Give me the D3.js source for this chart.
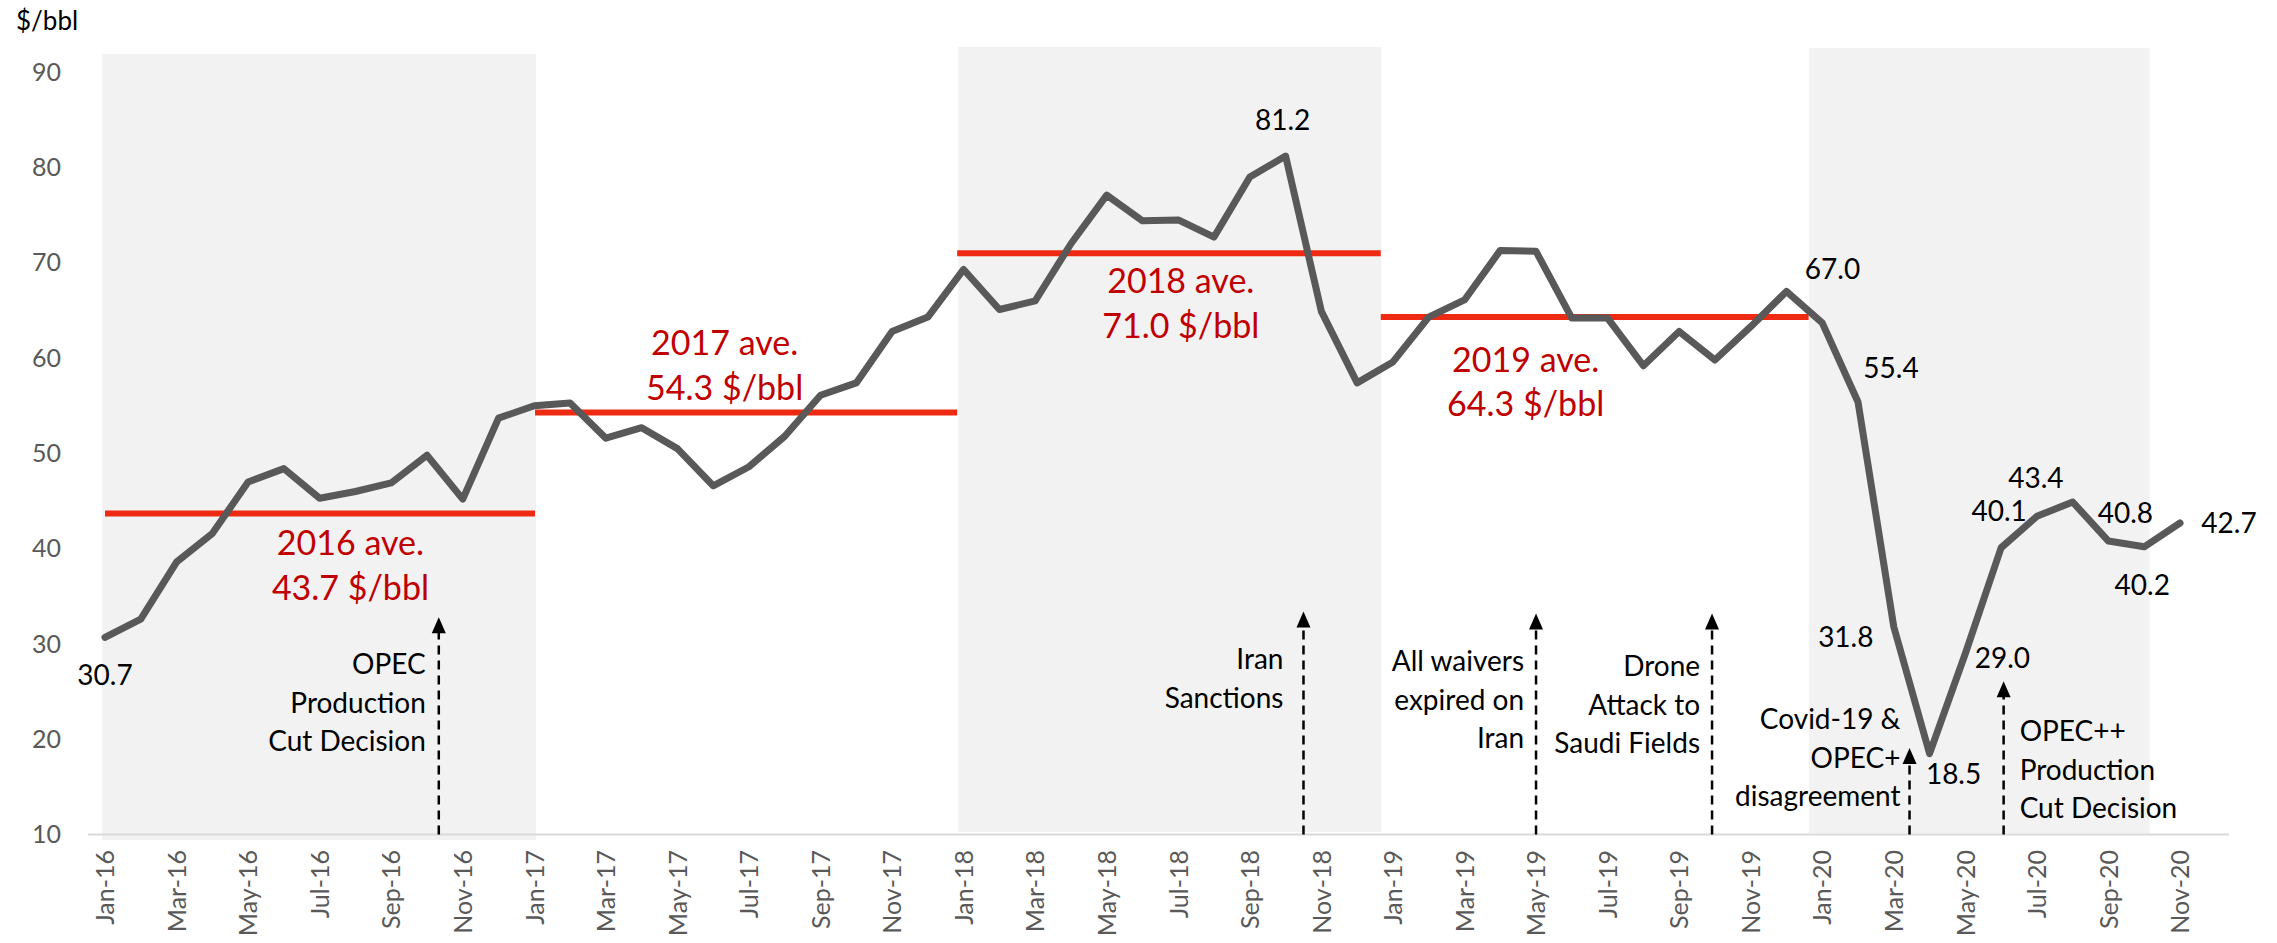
<!DOCTYPE html>
<html>
<head>
<meta charset="utf-8">
<script src="https://cdn.jsdelivr.net/npm/d3@7"></script>
<style>
  body { margin: 0; background: #fff; }
  text { font-family: Lato, "Open Sans", sans-serif; }
</style>
</head>
<body>
<script>
// months on the x axis (Jan-16 .. Nov-20)
var months = [
  "Jan-16","Feb-16","Mar-16","Apr-16","May-16","Jun-16","Jul-16","Aug-16","Sep-16","Oct-16","Nov-16","Dec-16",
  "Jan-17","Feb-17","Mar-17","Apr-17","May-17","Jun-17","Jul-17","Aug-17","Sep-17","Oct-17","Nov-17","Dec-17",
  "Jan-18","Feb-18","Mar-18","Apr-18","May-18","Jun-18","Jul-18","Aug-18","Sep-18","Oct-18","Nov-18","Dec-18",
  "Jan-19","Feb-19","Mar-19","Apr-19","May-19","Jun-19","Jul-19","Aug-19","Sep-19","Oct-19","Nov-19","Dec-19",
  "Jan-20","Feb-20","Mar-20","Apr-20","May-20","Jun-20","Jul-20","Aug-20","Sep-20","Oct-20","Nov-20"
];

// monthly price, $/bbl
var price = [
  30.7, 32.6, 38.6, 41.6, 47.0, 48.4, 45.3, 46.0, 46.9, 49.8, 45.2, 53.7,
  55.0, 55.3, 51.6, 52.7, 50.5, 46.6, 48.6, 51.8, 56.1, 57.4, 62.8, 64.3,
  69.3, 65.1, 66.0, 72.0, 77.1, 74.4, 74.5, 72.7, 79.0, 81.2, 64.9, 57.4,
  59.6, 64.3, 66.1, 71.3, 71.2, 64.2, 64.2, 59.2, 62.8, 59.8, 63.3, 67.0,
  63.7, 55.4, 31.8, 18.5, 29.0, 40.1, 43.4, 44.9, 40.8, 40.2, 42.7
];

// yearly averages
var avgYears = ["2016", "2017", "2018", "2019"];
var avgValues = [43.7, 54.3, 71.0, 64.3];

// y axis ticks
var yTicks = [10, 20, 30, 40, 50, 60, 70, 80, 90];

// months that carry a value label
var labelIdx = [0, 33, 47, 49, 50, 51, 52, 53, 54, 56, 57, 58];

// event notes
var noteLines = [
  ["OPEC", "Production", "Cut Decision"],
  ["Iran", "Sanctions"],
  ["All waivers", "expired on", "Iran"],
  ["Drone", "Attack to", "Saudi Fields"],
  ["Covid-19 &", "OPEC+", "disagreement"],
  ["OPEC++", "Production", "Cut Decision"]
];

// ---- layout ----
var width = 2277,
    height = 943;

var svg = d3.select("body").append("svg")
    .attr("width", width)
    .attr("height", height);

// month index -> px
var x = d3.scaleLinear().domain([0, months.length - 1]).range([105, 2180]);
var y = d3.scaleLinear().domain([10, 90]).range([834.6, 72.2]);

// shaded years (in month index units) and their vertical extent
var bands = [
  {from: -0.08, to: 12.05, top: 54, bottom: 840},
  {from: 23.85, to: 35.68, top: 47, bottom: 832},
  {from: 47.62, to: 57.15, top: 48, bottom: 833}
];
svg.selectAll("rect.band").data(bands).enter()
  .append("rect")
    .attr("class", "band")
    .attr("x", function(d){ return x(d.from); })
    .attr("width", function(d){ return x(d.to) - x(d.from); })
    .attr("y", function(d){ return d.top; })
    .attr("height", function(d){ return d.bottom - d.top; })
    .attr("fill", "#f2f2f2");

// baseline
svg.append("line")
    .attr("x1", 88).attr("x2", 2229)
    .attr("y1", y(10)).attr("y2", y(10))
    .attr("stroke", "#d9d9d9")
    .attr("stroke-width", 2);

// y axis
var yAxis = svg.append("g")
    .attr("transform", "translate(61,0)")
    .call(d3.axisLeft(y).tickValues(yTicks).tickSize(0).tickPadding(0));
yAxis.select(".domain").remove();
yAxis.selectAll("text")
    .attr("fill", "#595959")
    .style("font-size", "25px");

// x axis, every other month, rotated
var xAxis = svg.append("g")
    .attr("transform", "translate(0," + 850 + ")")
    .call(d3.axisBottom(x)
      .tickValues(d3.range(0, months.length, 2))
      .tickFormat(function(i){ return months[i]; })
      .tickSize(0).tickPadding(0));
xAxis.select(".domain").remove();
xAxis.selectAll("text")
    .attr("fill", "#595959")
    .style("font-size", "25px")
    .attr("text-anchor", "end")
    .attr("y", 0)
    .attr("dy", "0.35em")
    .attr("transform", "rotate(-90)");

// unit label
svg.append("text")
    .attr("x", 16).attr("y", 30)
    .style("font-size", "26px")
    .attr("fill", "#000")
    .text("$/bbl");

// yearly average lines (month index range)
var avgSpan = [[0, 12.02], [12.02, 23.82], [23.82, 35.66], [35.66, 47.62]];
svg.selectAll("line.avg").data(avgValues).enter()
  .append("line")
    .attr("class", "avg")
    .attr("x1", function(d, i){ return x(avgSpan[i][0]); })
    .attr("x2", function(d, i){ return x(avgSpan[i][1]); })
    .attr("y1", function(d){ return y(d); })
    .attr("y2", function(d){ return y(d); })
    .attr("stroke", "#ee2a12")
    .attr("stroke-width", 6);

// average text: centre (month index) and baselines relative to the line
var avgText = [
  {at: 6.86, dy: [42, 87]},
  {at: 17.32, dy: [-57, -12]},
  {at: 30.07, dy: [40, 85]},
  {at: 39.71, dy: [55, 99]}
];
avgValues.forEach(function(v, i){
  var t = avgText[i];
  [avgYears[i] + " ave.", v.toFixed(1) + " $/bbl"].forEach(function(s, k){
    svg.append("text")
        .attr("x", x(t.at))
        .attr("y", y(v) + t.dy[k])
        .attr("text-anchor", "middle")
        .attr("fill", "#c00000")
        .style("font-size", "34px")
        .text(s);
  });
});

// price line
var line = d3.line()
    .x(function(d, i){ return x(i); })
    .y(function(d){ return y(d); });

svg.append("path")
    .datum(price)
    .attr("d", line)
    .attr("fill", "none")
    .attr("stroke", "#595959")
    .attr("stroke-width", 7)
    .attr("stroke-linejoin", "round")
    .attr("stroke-linecap", "round");

// value labels, offsets from the point
var labelOff = {
  0: [0, 48], 33: [-3, -26], 47: [46, -12], 49: [33, -24], 50: [-48, 20],
  51: [24, 30], 52: [37, 14], 53: [-2, -27], 54: [-1, -28], 56: [17, -18],
  57: [-2, 48], 58: [49, 10]
};
svg.selectAll("text.val").data(labelIdx).enter()
  .append("text")
    .attr("class", "val")
    .attr("x", function(i){ return x(i) + labelOff[i][0]; })
    .attr("y", function(i){ return y(price[i]) + labelOff[i][1]; })
    .attr("text-anchor", "middle")
    .attr("fill", "#000")
    .style("font-size", "28px")
    .text(function(i){ return price[i].toFixed(1); });

// event arrows: month index, tip value, text offset and first baseline
var notePos = [
  {at: 9.33, tip: 32.8, dx: -13, base: 674, anchor: "end"},
  {at: 33.5, tip: 33.4, dx: -20, base: 669, anchor: "end"},
  {at: 40.0, tip: 33.2, dx: -12, base: 671, anchor: "end"},
  {at: 44.92, tip: 33.2, dx: -12, base: 676, anchor: "end"},
  {at: 50.44, tip: 19.1, dx: -9, base: 729, anchor: "end"},
  {at: 53.07, tip: 26.1, dx: 16, base: 741, anchor: "start"}
];

notePos.forEach(function(n, i){
  var ax = x(n.at), ty = y(n.tip);
  svg.append("line")
      .attr("x1", ax).attr("x2", ax)
      .attr("y1", y(10)).attr("y2", ty + 14)
      .attr("stroke", "#000")
      .attr("stroke-width", 2.5)
      .attr("stroke-dasharray", "9,6");
  svg.append("path")
      .attr("d", "M" + ax + "," + ty + "L" + (ax - 7) + "," + (ty + 16) + "L" + (ax + 7) + "," + (ty + 16) + "Z")
      .attr("fill", "#000");
  noteLines[i].forEach(function(s, k){
    svg.append("text")
        .attr("x", ax + n.dx)
        .attr("y", n.base + k * 38.5)
        .attr("text-anchor", n.anchor)
        .attr("fill", "#000")
        .style("font-size", "28px")
        .text(s);
  });
});
</script>
</body>
</html>
